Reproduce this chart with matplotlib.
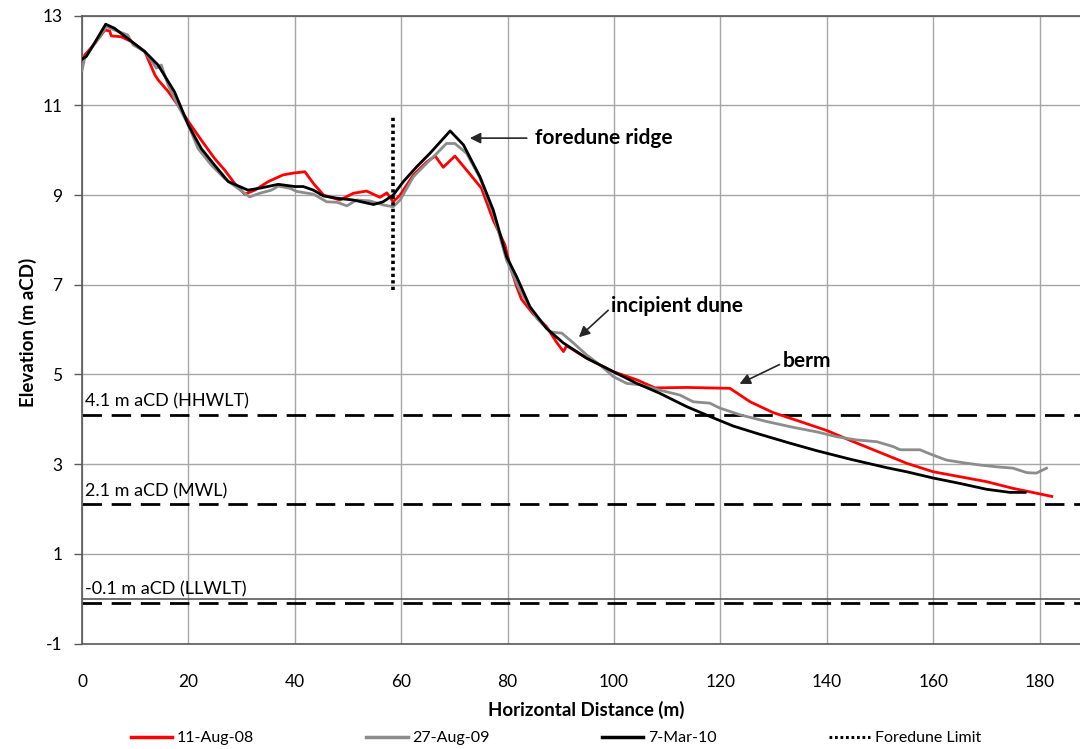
import matplotlib

matplotlib.use("Agg")
import matplotlib.pyplot as plt  # noqa: E402
from matplotlib.lines import Line2D  # noqa: E402

plt.rcParams["font.family"] = ["Lato", "DejaVu Sans"]
plt.rcParams["axes.unicode_minus"] = False

# beach profile surveys: horizontal distance (m) vs elevation (m aCD)
aug08_x = [0, 0.5, 2.4, 4.3, 5.2, 5.5, 7.4, 9.3, 11.8, 13.7, 14.3, 16.2, 18.0, 20.0,
           22.4, 24.9, 26.8, 28.7, 30.6, 32.5, 35.0, 37.8, 39.7, 41.9, 43.5, 45.4,
           48.5, 51.0, 53.5, 56.0, 57.3, 58.5, 59.8, 62.3, 64.8, 66.4, 67.9, 70.1,
           72.9, 75.1, 77.3, 79.5, 80.5, 81.7, 82.6, 84.8, 87.3, 89.2, 90.5, 91.1,
           94.9, 99.9, 104.3, 107.7, 113.7, 121.8, 125.6, 129.9, 135.0, 140.0,
           145.0, 150.0, 155.0, 160.0, 165.0, 170.0, 175.0, 182.3]
aug08_y = [11.85, 12.12, 12.38, 12.68, 12.66, 12.55, 12.53, 12.42, 12.2, 11.68, 11.57,
           11.31, 11.01, 10.64, 10.23, 9.82, 9.56, 9.26, 9.02, 9.11, 9.30, 9.45, 9.49,
           9.52, 9.26, 9.0, 8.89, 9.04, 9.09, 8.95, 9.05, 8.85, 9.0, 9.45, 9.74, 9.87,
           9.62, 9.87, 9.47, 9.15, 8.44, 7.89, 7.40, 6.96, 6.68, 6.35, 6.07, 5.72,
           5.51, 5.64, 5.36, 5.06, 4.88, 4.70, 4.71, 4.69, 4.39, 4.15, 3.95, 3.75,
           3.50, 3.26, 3.02, 2.83, 2.72, 2.61, 2.46, 2.28]

aug09_x = [0, 0.5, 2.4, 4.6, 6.1, 8.6, 9.6, 11.8, 14.0, 14.9, 16.2, 18.0, 20.0, 21.8,
           24.3, 26.8, 29.3, 31.5, 33.4, 35.6, 36.9, 39.1, 40.4, 43.5, 46.0, 47.9,
           49.8, 51.6, 54.1, 56.6, 58.5, 59.8, 62.3, 64.8, 66.7, 68.5, 70.1, 72.3,
           74.8, 77.3, 79.8, 82.3, 85.5, 88.0, 90.2, 92.3, 94.9, 97.4, 99.9, 102.4,
           104.9, 108.6, 112.4, 114.9, 118.0, 119.9, 123.7, 128.7, 133.7, 138.1,
           141.9, 145.6, 149.4, 152.5, 153.8, 157.5, 160.0, 162.5, 165.7, 168.8,
           171.9, 175.0, 177.6, 179.4, 181.3]
aug09_y = [11.78, 12.05, 12.38, 12.76, 12.68, 12.57, 12.35, 12.2, 11.83, 11.90, 11.45,
           11.01, 10.56, 10.04, 9.67, 9.37, 9.15, 8.96, 9.04, 9.11, 9.20, 9.15, 9.08,
           9.02, 8.85, 8.84, 8.76, 8.89, 8.87, 8.78, 8.74, 8.89, 9.41, 9.71, 9.93,
           10.15, 10.15, 9.93, 9.38, 8.60, 7.55, 6.88, 6.25, 5.95, 5.92, 5.71, 5.43,
           5.21, 4.95, 4.80, 4.77, 4.65, 4.54, 4.39, 4.36, 4.25, 4.10, 3.95, 3.82,
           3.72, 3.61, 3.54, 3.50, 3.39, 3.32, 3.32, 3.20, 3.09, 3.03, 2.98, 2.94,
           2.91, 2.81, 2.80, 2.91]

mar10_x = [0, 0.8, 2.4, 4.45, 6.1, 8.5, 11.8, 14.3, 17.4, 20.0, 22.4, 24.9, 27.5, 31.2,
           33.7, 36.9, 40.0, 41.6, 43.5, 45.4, 47.9, 51.0, 54.8, 56.6, 58.5, 60.4,
           62.9, 65.4, 69.2, 71.7, 74.8, 77.3, 79.8, 81.7, 84.2, 87.3, 90.5, 94.9,
           99.9, 104.3, 108.6, 113.7, 118.7, 122.4, 127.0, 133.0, 138.1, 144.4,
           151.3, 155.0, 160.0, 165.0, 170.0, 174.4, 177.3]
mar10_y = [12.03, 12.09, 12.4, 12.81, 12.72, 12.5, 12.2, 11.9, 11.3, 10.56, 10.04, 9.67,
           9.3, 9.11, 9.16, 9.24, 9.19, 9.19, 9.11, 8.98, 8.93, 8.89, 8.79, 8.85, 9.0,
           9.30, 9.63, 9.93, 10.43, 10.12, 9.41, 8.67, 7.63, 7.18, 6.51, 6.03, 5.70,
           5.36, 5.06, 4.80, 4.58, 4.28, 4.03, 3.85, 3.68, 3.47, 3.30, 3.11, 2.92,
           2.83, 2.69, 2.57, 2.44, 2.37, 2.37]

survey_labels = ["11-Aug-08", "27-Aug-09", "7-Mar-10"]
survey_colors = ["#ff0000", "#8c8c8c", "#000000"]

# tidal levels (m aCD)
tide_levels = [4.1, 2.1, -0.1]
tide_labels = ["4.1 m aCD (HHWLT)", "2.1 m aCD (MWL)", "-0.1 m aCD (LLWLT)"]

# foredune limit marker
foredune_x = 58.4
foredune_y = [6.88, 10.78]

# annotations: text, text position, arrow tail, arrow tip
notes = [
    ("foredune ridge", (85.2, 10.27), (83.6, 10.27), (72.9, 10.27)),
    ("incipient dune", (99.5, 6.52), (98.9, 6.43), (93.4, 5.83)),
    ("berm", (131.8, 5.3), (131.1, 5.22), (123.6, 4.79)),
]

xticks = list(range(0, 181, 20))
yticks = list(range(13, -2, -2))

fig = plt.figure(figsize=(10.8, 7.49), dpi=100)
ax = fig.add_axes([82 / 1080, 105.5 / 749, 998 / 1080, 627.8 / 749])

grid_c = "#a6a6a6"
axis_c = "#595959"
for x in xticks:
    ax.axvline(x, color=grid_c, lw=1.0, zorder=0)
for y in yticks:
    ax.axhline(y, color=grid_c, lw=1.0, zorder=0)
ax.axhline(0, color=axis_c, lw=1.2, zorder=1)

for lvl, lab in zip(tide_levels, tide_labels):
    ax.axhline(lvl, color="black", lw=2.0, ls=(0, (7, 3.5)), zorder=2)
    ax.text(0.6, lvl + 0.12, lab, fontsize=13, va="bottom", ha="left", color="black")

series = [(aug08_x, aug08_y), (aug09_x, aug09_y), (mar10_x, mar10_y)]
for (xs, ys), lab, col in zip(series, survey_labels, survey_colors):
    ax.plot(xs, ys, color=col, lw=2.0, label=lab, zorder=3)

ax.plot([foredune_x, foredune_x], foredune_y, color="black", lw=2.6,
        ls=(0, (0.9, 0.9)), zorder=4)

for text, tpos, tail, tip in notes:
    ax.annotate("", xy=tip, xytext=tail,
                arrowprops=dict(arrowstyle="-|>", color="#262626", lw=1.2,
                                mutation_scale=16, shrinkA=0, shrinkB=0))
    ax.text(tpos[0], tpos[1], text, fontsize=15, fontweight="bold",
            va="center", ha="left")

ax.set_xlim(0, 187.6)
ax.set_ylim(-1, 13)
ax.set_xticks(xticks)
ax.set_yticks(yticks)
ax.tick_params(axis="x", length=0, pad=22, labelsize=12.5)
ax.tick_params(axis="y", length=6, width=1, color=axis_c, direction="out",
               pad=8, labelsize=12.5)
for side in ("left", "top", "bottom"):
    ax.spines[side].set_color(axis_c)
    ax.spines[side].set_linewidth(1.2)
ax.spines["right"].set_visible(False)

fig.text(586 / 1080, 1 - 710 / 749, "Horizontal Distance (m)", fontsize=13.5,
         fontweight="bold", ha="center", va="center")
fig.text(28 / 1080, 1 - 332 / 749, "Elevation (m aCD)", fontsize=13.5,
         fontweight="bold", ha="center", va="center", rotation=90)

handles = [Line2D([], [], color=c, lw=2.5) for c in survey_colors]
handles.append(Line2D([], [], color="black", lw=2.2, ls=(0, (0.9, 0.9))))
fig.legend(handles, survey_labels + ["Foredune Limit"], loc="center",
           bbox_to_anchor=(556 / 1080, 1 - 738 / 749), ncol=4, frameon=False,
           fontsize=11.5, handlelength=2.6, handletextpad=0.3, columnspacing=7.0)

fig.savefig("out.png", dpi=100)
